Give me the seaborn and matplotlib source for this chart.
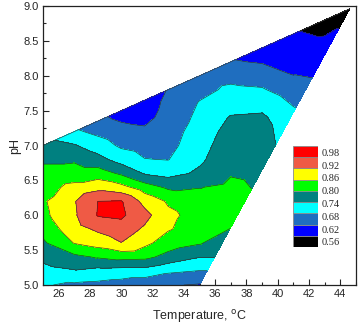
import numpy as np
import matplotlib
matplotlib.use("Agg")
import matplotlib.pyplot as plt
import matplotlib.tri as mtri
from matplotlib.colors import ListedColormap, BoundaryNorm
import seaborn as sns

temps = [25, 27, 28.5, 30, 31.5, 33, 35, 36, 37, 38, 39, 41, 42, 43, 44.6]

ph_25 = [5.0, 5.2, 5.4, 5.6, 5.8, 6.0, 6.2, 6.4, 6.6, 6.8, 7.0]
val_25 = [0.685, 0.72, 0.755, 0.79, 0.82, 0.845, 0.852, 0.84, 0.82, 0.79, 0.77]

ph_27 = [5.0, 5.2, 5.4, 5.6, 5.8, 6.0, 6.2, 6.4, 6.6, 6.8, 7.0, 7.2]
val_27 = [0.67, 0.735, 0.785, 0.862, 0.895, 0.912, 0.916, 0.875, 0.83, 0.79, 0.745, 0.69]

ph_285 = [5.0, 5.2, 5.4, 5.6, 5.8, 6.0, 6.2, 6.4, 6.6, 6.8, 7.0, 7.2, 7.35]
val_285 = [0.665, 0.72, 0.805, 0.885, 0.93, 0.983, 0.98, 0.90, 0.83, 0.76, 0.71, 0.665, 0.635]

ph_30 = [5.0, 5.2, 5.4, 5.6, 5.8, 6.0, 6.2, 6.4, 6.6, 6.8, 7.0, 7.2, 7.4, 7.5]
val_30 = [0.655, 0.715, 0.82, 0.918, 0.955, 0.99, 0.983, 0.88, 0.79, 0.715, 0.67, 0.64, 0.61, 0.60]

ph_315 = [5.0, 5.2, 5.4, 5.6, 5.8, 6.0, 6.2, 6.4, 6.6, 6.8, 7.0, 7.2, 7.4, 7.6, 7.65]
val_315 = [0.64, 0.715, 0.815, 0.875, 0.91, 0.94, 0.90, 0.83, 0.735, 0.682, 0.655, 0.63, 0.605, 0.60, 0.60]

ph_33 = [5.0, 5.2, 5.4, 5.6, 5.8, 6.0, 6.2, 6.4, 6.6, 6.8, 7.0, 7.2, 7.4, 7.6, 7.8]
val_33 = [0.625, 0.69, 0.78, 0.83, 0.865, 0.872, 0.853, 0.79, 0.72, 0.678, 0.66, 0.65, 0.64, 0.63, 0.622]

ph_35 = [5.0, 5.2, 5.4, 5.6, 5.8, 6.0, 6.2, 6.4, 6.6, 6.8, 7.0, 7.2, 7.4, 7.6, 7.8, 8.0]
val_35 = [0.615, 0.678, 0.742, 0.805, 0.83, 0.84, 0.83, 0.798, 0.75, 0.73, 0.72, 0.71, 0.695, 0.684, 0.665, 0.655]

ph_36 = [5.4125]
val_36 = [0.745]

ph_37 = [5.825, 6.0, 6.2, 6.4, 6.6, 6.8, 7.0, 7.2, 7.4, 7.6, 7.8, 8.0, 8.2]
val_37 = [0.802, 0.815, 0.825, 0.815, 0.795, 0.78, 0.77, 0.76, 0.745, 0.715, 0.69, 0.665, 0.625]

ph_38 = [6.2375]
val_38 = [0.81]

ph_39 = [6.65, 6.8, 7.0, 7.2, 7.4, 7.6, 7.8, 8.0, 8.2, 8.4]
val_39 = [0.78, 0.775, 0.77, 0.765, 0.75, 0.72, 0.685, 0.655, 0.615, 0.59]

ph_41 = [7.475, 7.6, 7.8, 8.0, 8.2, 8.4, 8.6]
val_41 = [0.69, 0.675, 0.65, 0.621, 0.595, 0.58, 0.565]

ph_42 = [7.8875]
val_42 = [0.625]

ph_43 = [8.3, 8.4, 8.6, 8.8]
val_43 = [0.60, 0.59, 0.555, 0.54]

ph_446 = [8.96]
val_446 = [0.53]

levels = [0.50, 0.56, 0.62, 0.68, 0.74, 0.80, 0.86, 0.92, 0.98, 1.05]
legend_labels = ['0.98', '0.92', '0.86', '0.80', '0.74', '0.68', '0.62', '0.56']
band_colors = ['#000000', '#0000ff', '#1f6ebf', '#00ffff', '#008080',
               '#00ff00', '#ffff00', '#ef5a45', '#ff0000']

ph_cols = [ph_25, ph_27, ph_285, ph_30, ph_315, ph_33, ph_35, ph_36, ph_37,
           ph_38, ph_39, ph_41, ph_42, ph_43, ph_446]
val_cols = [val_25, val_27, val_285, val_30, val_315, val_33, val_35, val_36, val_37,
            val_38, val_39, val_41, val_42, val_43, val_446]

T = np.concatenate([[t] * len(p) for t, p in zip(temps, ph_cols)]).astype(float)
P = np.concatenate(ph_cols)
Z = np.concatenate(val_cols)

sns.set_style("ticks")
plt.rcParams['font.family'] = ['Liberation Sans', 'DejaVu Sans']

# triangulate in scaled units so triangles follow the columns
tri_s = mtri.Triangulation(T / 2.0, P / 0.2)
tri = mtri.Triangulation(T, P, tri_s.triangles)

fig = plt.figure(figsize=(3.59, 3.24), dpi=100)
ax = fig.add_axes([43 / 359, 1 - 285 / 324, 313 / 359, 279 / 324])

cmap = ListedColormap(band_colors)
norm = BoundaryNorm(levels, cmap.N)
ax.tricontourf(tri, Z, levels=levels, cmap=cmap, norm=norm)
ax.tricontour(tri, Z, levels=levels[1:-1], colors='#303030', linewidths=0.45)

# thin outline along the upper edge of the measured region
ax.plot([temps[0], temps[-1]], [ph_25[-1], ph_446[0]], color='#404040', lw=0.5)

ax.set_xlim(25, 45)
ax.set_ylim(5, 9)
ax.set_xticks(np.arange(26, 45, 2))
ax.set_xticks(np.arange(25, 46, 1), minor=True)
ax.set_yticks(np.arange(5.0, 9.01, 0.5))
ax.set_yticks(np.arange(5.0, 9.01, 0.25), minor=True)
ax.set_yticklabels([f"{v:.1f}" for v in np.arange(5.0, 9.01, 0.5)])
ax.tick_params(which='both', direction='in', top=False, right=False,
               labelsize=8, width=0.8, pad=3)
ax.tick_params(which='major', length=4)
ax.tick_params(which='minor', length=2)
for s in ax.spines.values():
    s.set_linewidth(0.9)
    s.set_color('#222222')

ax.set_xlabel('Temperature, $^{\\rm o}$C', fontsize=9, labelpad=6)
ax.set_ylabel('pH', fontsize=9, labelpad=2)

# legend boxes
leg = fig.add_axes([293 / 359, 1 - 247 / 324, 25 / 359, 101 / 324])
leg.barh(np.arange(9), 1, height=1, left=0, color=band_colors,
         edgecolor='#8a8a8a', linewidth=0.6)
leg.set_xlim(0, 1)
leg.set_ylim(-0.5, 8.5)
leg.axis('off')
for y, lab in zip(np.linspace(7.85, -0.14, 8), legend_labels):
    leg.text(1.15, y, lab, va='center', ha='left', fontsize=7.5,
             family=['Liberation Serif', 'DejaVu Serif'])

fig.savefig('out.png', dpi=100)
